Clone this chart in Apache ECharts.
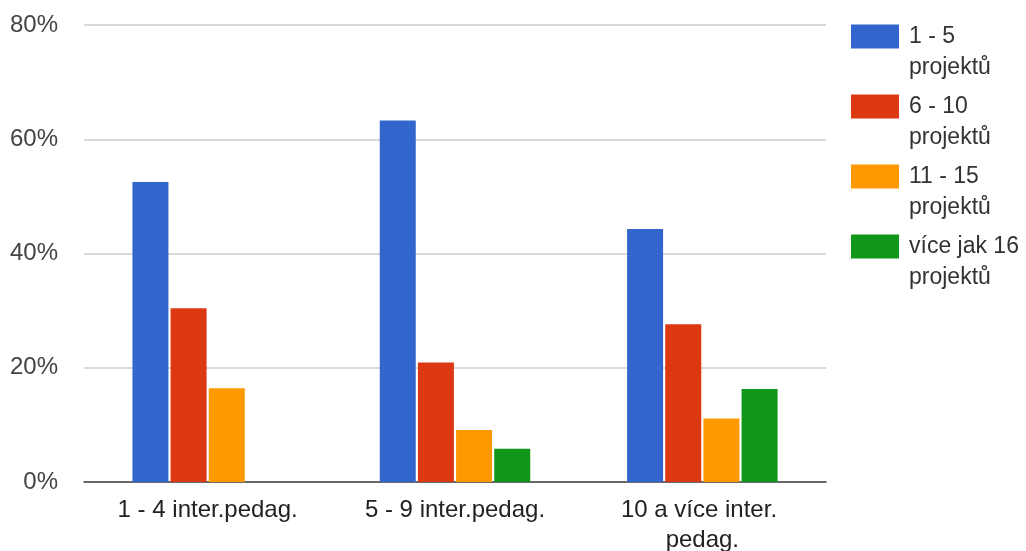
<!DOCTYPE html>
<html>
<head>
<meta charset="utf-8">
<script src="https://cdn.jsdelivr.net/npm/echarts@6/dist/echarts.min.js"></script>
<style>
html,body{margin:0;padding:0;background:#fff;}
#c{width:1026px;height:551px;}
</style>
</head>
<body>
<div id="c"></div>
<script>
const categories = ['1 - 4 inter.pedag.', '5 - 9 inter.pedag.', '10 a více inter. pedag.'];
const seriesNames = ['1 - 5 projektů', '6 - 10 projektů', '11 - 15 projektů', 'více jak 16 projektů'];
const s1to5 = [52.5, 63.3, 44.3];
const s6to10 = [30.4, 20.9, 27.6];
const s11to15 = [16.4, 9.1, 11.1];
const s16plus = [0, 5.8, 16.3];
const yTicks = [0, 20, 40, 60, 80];
const colors = ['#3366cc', '#dc3912', '#ff9900', '#109618'];

const font = '"Liberation Sans", Arial, sans-serif';
const values = [s1to5, s6to10, s11to15, s16plus];

const chart = echarts.init(document.getElementById('c'), null, {renderer: 'canvas'});
chart.setOption({
  animation: false,
  color: colors,
  grid: {left: 84, right: 200, top: 25, bottom: 69, containLabel: false, outerBoundsMode: 'none'},
  legend: {
    orient: 'vertical',
    left: 851,
    top: -10,
    padding: 0,
    itemWidth: 48,
    itemHeight: 24,
    itemGap: -23,
    icon: 'rect',
    selectedMode: false,
    formatter: n => '\n' + n.replace(' projektů', '\nprojektů'),
    textStyle: {
      fontFamily: font, fontSize: 23, color: '#333', lineHeight: 31,
      padding: [0, 0, 0, 5]
    },
    data: seriesNames
  },
  xAxis: {
    type: 'category',
    data: categories,
    axisTick: {show: false},
    axisLine: {lineStyle: {color: '#444', width: 1.5}},
    axisLabel: {
      fontFamily: font, fontSize: 24, color: '#222', lineHeight: 30, margin: 13,
      width: 210, overflow: 'break', interval: 0
    }
  },
  yAxis: {
    type: 'value',
    min: yTicks[0],
    max: yTicks[yTicks.length - 1],
    interval: 20,
    axisLine: {show: false},
    axisTick: {show: false},
    splitLine: {lineStyle: {color: '#cccccc', width: 1.5}},
    axisLabel: {
      fontFamily: font, fontSize: 24, color: '#444', margin: 26,
      formatter: '{value}%'
    }
  },
  series: seriesNames.map((name, i) => ({
    name: name,
    type: 'bar',
    data: values[i],
    barWidth: 36,
    barGap: '6%',
    itemStyle: {color: colors[i]}
  }))
});
</script>
</body>
</html>
